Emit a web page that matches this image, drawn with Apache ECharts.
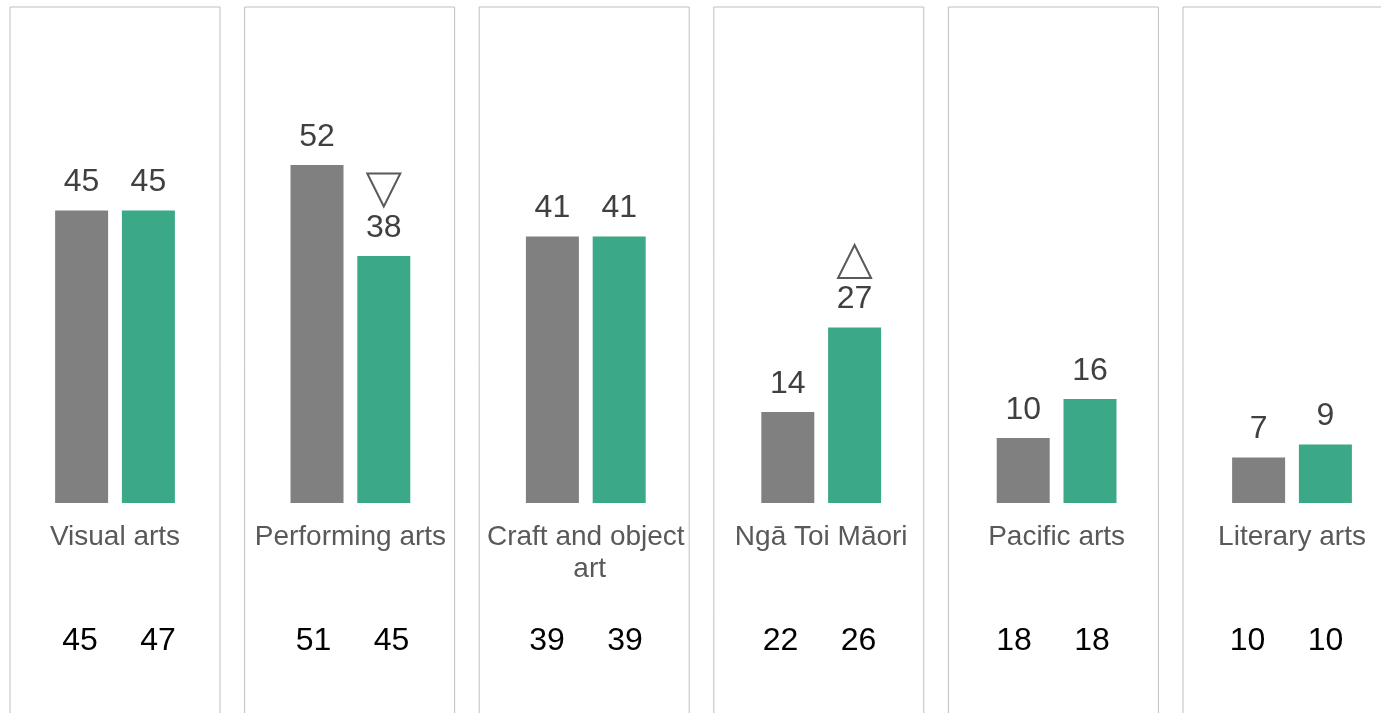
<!DOCTYPE html>
<html>
<head>
<meta charset="utf-8">
<title>Arts participation</title>
<script src="https://cdn.jsdelivr.net/npm/echarts@6/dist/echarts.min.js"></script>
<style>
  html, body { margin: 0; padding: 0; background: #fff; }
  #chart { width: 1381px; height: 713px; }
</style>
</head>
<body>
<div id="chart"></div>
<script>
// categories, one panel each
const categories = ['Visual arts', 'Performing arts', 'Craft and object art', 'Ngā Toi Māori', 'Pacific arts', 'Literary arts']
// bar values
const greyValues = [45, 52, 41, 14, 10, 7]
const greenValues = [45, 38, 41, 27, 16, 9]
// significant change markers on the green bar
const changes = [null, 'down', null, 'up', null, null]
// row of figures under each panel
const rowLeft = [45, 51, 39, 22, 18, 10]
const rowRight = [47, 45, 39, 26, 18, 10]

const FONT = "'Liberation Sans', Arial, sans-serif"
const GREY = '#808080'
const GREEN = '#3ba887'
const BOX_PITCH = 234.6
const BAR_PITCH = 235.4
const ROW_PITCH = 233.5
const Y_MAX = 76.3
const ROW_Y = -21.2
const N = categories.length

const chart = echarts.init(document.getElementById('chart'))

const grids = []
const xAxes = []
const yAxes = []
const series = []

// boxes round each panel (grids 0..5), also holding the figures row
categories.forEach((cat, i) => {
  grids.push({
    left: 10 + i * BOX_PITCH,
    width: 210,
    top: 7,
    height: 713,
    containLabel: false,
    outerBoundsMode: 'none',
    show: true,
    borderColor: '#bfbfbf',
    borderWidth: 1,
    backgroundColor: 'transparent'
  })
  xAxes.push({ gridIndex: i, type: 'category', data: [cat], show: false })
  yAxes.push({ gridIndex: i, type: 'value', min: -33.4, max: Y_MAX, show: false, splitLine: { show: false } })

  // the figures row drifts slightly against the boxes
  const shift = (119 + i * ROW_PITCH) - (115 + i * BOX_PITCH)
  ;[[rowLeft, -39], [rowRight, 39]].forEach(([arr, dx]) => {
    series.push({
      type: 'scatter',
      xAxisIndex: i,
      yAxisIndex: i,
      data: [[0, ROW_Y]],
      symbolSize: 1,
      itemStyle: { color: 'transparent', opacity: 1 },
      silent: true,
      label: {
        show: true,
        position: 'inside',
        offset: [dx + shift, 0],
        formatter: () => String(arr[i]),
        color: '#000000',
        opacity: 1,
        fontFamily: FONT,
        fontSize: 32
      }
    })
  })
})

// bar plots (grids 6..11), bottom edge on the baseline
categories.forEach((cat, i) => {
  const g = N + i
  grids.push({
    left: 10 + i * BAR_PITCH,
    width: 210,
    top: 7,
    height: 496,
    containLabel: false,
    outerBoundsMode: 'none',
    show: false
  })
  xAxes.push({
    gridIndex: g,
    type: 'category',
    data: [cat],
    axisLine: { show: false },
    axisTick: { show: false },
    axisLabel: {
      interval: 0,
      margin: 18,
      color: '#595959',
      fontFamily: FONT,
      fontSize: 28,
      lineHeight: 32,
      width: 205,
      overflow: 'break'
    }
  })
  yAxes.push({ gridIndex: g, type: 'value', min: 0, max: Y_MAX, show: false, splitLine: { show: false } })

  const valueLabel = {
    show: true,
    position: 'top',
    distance: 12,
    color: '#404040',
    fontFamily: FONT,
    fontSize: 32
  }

  series.push({
    type: 'bar',
    xAxisIndex: g,
    yAxisIndex: g,
    data: [greyValues[i]],
    barWidth: 53,
    barGap: '26%',
    itemStyle: { color: GREY },
    label: valueLabel,
    silent: true
  })

  const green = {
    type: 'bar',
    xAxisIndex: g,
    yAxisIndex: g,
    data: [greenValues[i]],
    barWidth: 53,
    barGap: '26%',
    itemStyle: { color: GREEN },
    label: valueLabel,
    silent: true
  }
  if (changes[i]) {
    green.markPoint = {
      silent: true,
      symbol: 'triangle',
      symbolSize: [33, 33],
      symbolRotate: changes[i] === 'down' ? 180 : 0,
      symbolOffset: [0, -66],
      itemStyle: { color: '#fff', borderColor: '#595959', borderWidth: 2 },
      label: { show: false },
      data: [{ coord: [0, greenValues[i]] }]
    }
  }
  series.push(green)
})

chart.setOption({
  animation: false,
  grid: grids,
  xAxis: xAxes,
  yAxis: yAxes,
  series: series
})
</script>
</body>
</html>
